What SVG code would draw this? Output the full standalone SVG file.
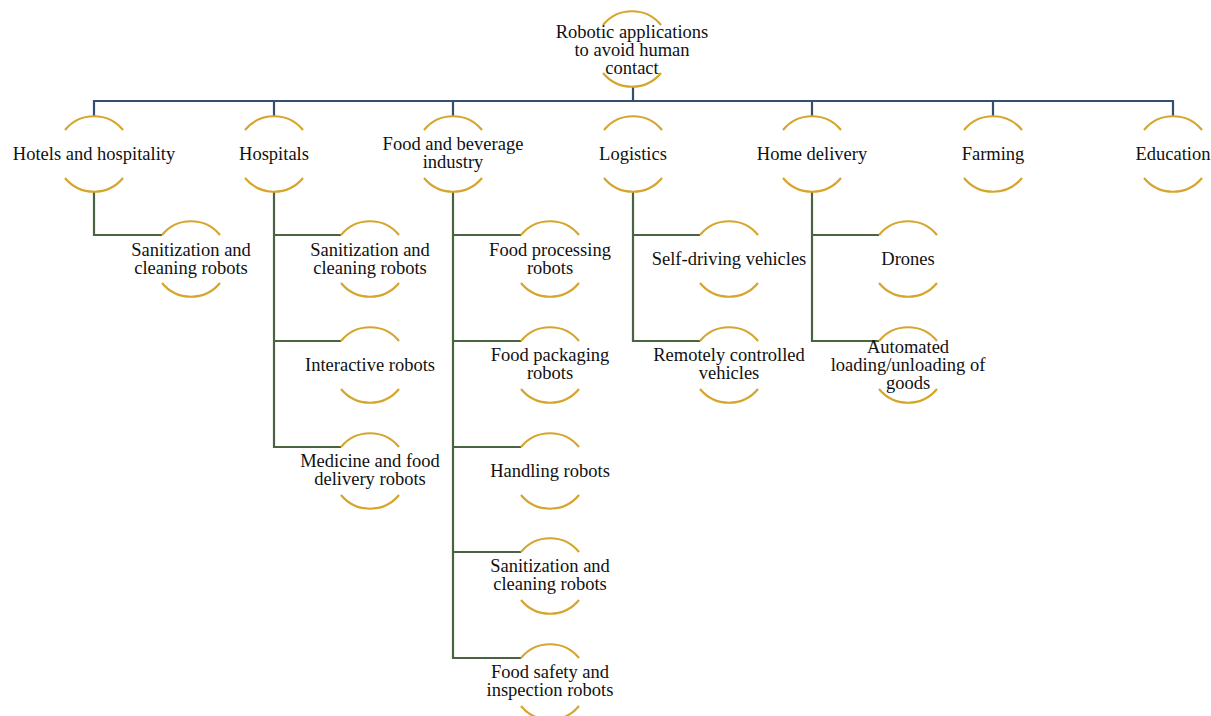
<svg xmlns="http://www.w3.org/2000/svg" width="1211" height="716" viewBox="0 0 1211 716">
<defs>
<style>
.arc{fill:none;stroke:#d6a52c;stroke-width:2.2}
.bus{fill:none;stroke:#34506e;stroke-width:2.2}
.br{fill:none;stroke:#4a6340;stroke-width:2.2}
text{font-family:"Liberation Serif","Times New Roman",serif;font-size:18.5px;fill:#111;text-anchor:middle}
</style>
<g id="nd">
<path class="arc" d="M-29,-24 A37.5,37.5 0 0 1 29,-24"/>
<path class="arc" d="M-29,24 A37.5,37.5 0 0 0 29,24"/>
</g>
</defs>
<rect width="1211" height="716" fill="#fff"/>
<g id="connectors">
<path class="bus" d="M633,86 V101 M94,117 V101 H1173 V117 M274,101 V117 M453,101 V117 M812,101 V117 M993,101 V117"/>
<path class="br" d="M94,192 V235 H162"/>
<path class="br" d="M274,192 V447 H341 M274,235 H341 M274,341 H341"/>
<path class="br" d="M453,192 V658 H521 M453,235 H521 M453,341 H521 M453,447 H521 M453,552 H521"/>
<path class="br" d="M633,192 V341 H700 M633,235 H700"/>
<path class="br" d="M812,192 V341 H879 M812,235 H879"/>
</g>
<g id="root"><use href="#nd" x="632" y="49"/><text x="632" y="38">Robotic applications</text><text x="632" y="56">to avoid human</text><text x="632" y="74">contact</text></g>
<g id="hotels"><use href="#nd" x="94" y="154"/><text x="94" y="160">Hotels and hospitality</text></g>
<g id="hospitals"><use href="#nd" x="274" y="154"/><text x="274" y="160">Hospitals</text></g>
<g id="food"><use href="#nd" x="453" y="154"/><text x="453" y="150">Food and beverage</text><text x="453" y="168">industry</text></g>
<g id="logistics"><use href="#nd" x="633" y="154"/><text x="633" y="160">Logistics</text></g>
<g id="home"><use href="#nd" x="812" y="154"/><text x="812" y="160">Home delivery</text></g>
<g id="farming"><use href="#nd" x="993" y="154"/><text x="993" y="160">Farming</text></g>
<g id="education"><use href="#nd" x="1173" y="154"/><text x="1173" y="160">Education</text></g>
<g id="hotels-sanit"><use href="#nd" x="191" y="259"/><text x="191" y="256">Sanitization and</text><text x="191" y="274">cleaning robots</text></g>
<g id="hosp-sanit"><use href="#nd" x="370" y="259"/><text x="370" y="256">Sanitization and</text><text x="370" y="274">cleaning robots</text></g>
<g id="hosp-inter"><use href="#nd" x="370" y="365"/><text x="370" y="371">Interactive robots</text></g>
<g id="hosp-med"><use href="#nd" x="370" y="471"/><text x="370" y="467">Medicine and food</text><text x="370" y="485">delivery robots</text></g>
<g id="food-proc"><use href="#nd" x="550" y="259"/><text x="550" y="256">Food processing</text><text x="550" y="274">robots</text></g>
<g id="food-pack"><use href="#nd" x="550" y="365"/><text x="550" y="361">Food packaging</text><text x="550" y="379">robots</text></g>
<g id="food-hand"><use href="#nd" x="550" y="471"/><text x="550" y="477">Handling robots</text></g>
<g id="food-sanit"><use href="#nd" x="550" y="576"/><text x="550" y="572">Sanitization and</text><text x="550" y="590">cleaning robots</text></g>
<g id="food-safety"><use href="#nd" x="550" y="682"/><text x="550" y="678">Food safety and</text><text x="550" y="696">inspection robots</text></g>
<g id="log-self"><use href="#nd" x="729" y="259"/><text x="729" y="265">Self-driving vehicles</text></g>
<g id="log-remote"><use href="#nd" x="729" y="365"/><text x="729" y="361">Remotely controlled</text><text x="729" y="379">vehicles</text></g>
<g id="home-drones"><use href="#nd" x="908" y="259"/><text x="908" y="265">Drones</text></g>
<g id="home-auto"><use href="#nd" x="908" y="365"/><text x="908" y="353">Automated</text><text x="908" y="371">loading/unloading of</text><text x="908" y="389">goods</text></g>
</svg>
